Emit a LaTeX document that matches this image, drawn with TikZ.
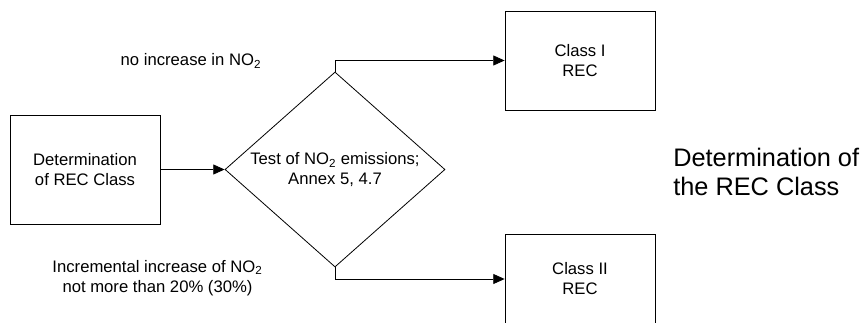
\documentclass[tikz,border=0pt]{standalone}
\usepackage{fontspec}
\setmainfont{Liberation Sans}
\usetikzlibrary{shapes.geometric,arrows.meta}
\begin{document}
\begin{tikzpicture}[x=0.75pt,y=0.75pt,
    txt/.style={font=\fontsize{12.5}{15}\selectfont, align=center},
    recbox/.style={draw, line width=0.6pt, minimum width=112.5pt, txt},
    arr/.style={line width=0.6pt, -{Triangle[length=8.5pt,width=7.5pt]}}]
                \clip (0,0) rectangle (864,322);
                \node [recbox, minimum height=81.75pt] (det) at (85,152.5) {Determination\\of REC Class};
                \node [draw, diamond, line width=0.6pt, inner sep=0pt, minimum width=165pt, minimum height=146.25pt] (test) at (335,152.5) {};
                \node [txt] (testtxt) at (test.center) {Test of NO\textsubscript{2} emissions;\\Annex 5, 4.7};
                \node [recbox, minimum height=74.25pt] (classone) at (580,261.5) {Class I\\REC};
                \node [recbox, minimum height=67.5pt] (classtwo) at (580,43) {Class II\\REC};
                \node [txt] (noinc) at (191,261) {no increase in NO\textsubscript{2}};
                \node [txt] (incr) at (157.5,44) {Incremental increase of NO\textsubscript{2}\\not more than 20\% (30\%)};
                \node [anchor=west, inner sep=0pt, align=left, font=\fontsize{19}{22}\selectfont] (title) at (673,150) {Determination of\\the REC Class};
                \draw [arr] (det.east) -- (test.west);
                \draw [arr] (test.north) |- (classone.west);
                \draw [arr] (test.south) |- (classtwo.west);
            \end{tikzpicture}
\end{document}
